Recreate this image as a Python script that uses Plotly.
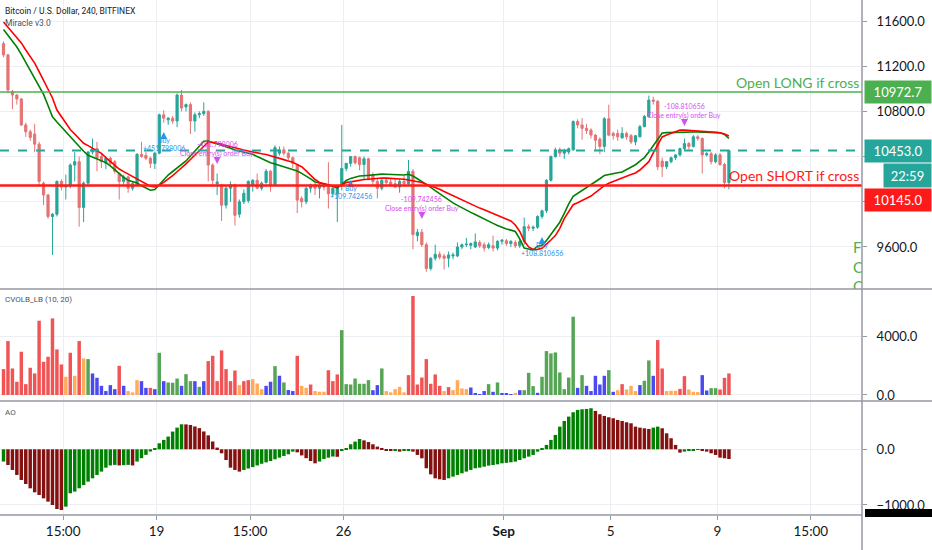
import plotly.graph_objects as go
from plotly.subplots import make_subplots

# ---- BTCUSD 4h candles (index 0 = oldest bar on screen) ----
bar_open = [11400, 11300, 10975, 10945, 10910, 10680, 10620, 10600, 10510, 10165, 10060, 9870,
            9890, 10180, 10130, 10140, 10325, 10355, 9950, 10165, 10440, 10470, 10400, 10340,
            10385, 10355, 10250, 10180, 10220, 10120, 10150, 10420, 10410, 10385, 10340, 10430,
            10770, 10725, 10740, 10715, 10945, 10840, 10860, 10715, 10770, 10780, 10800, 10325,
            10160, 10150, 9970, 10120, 10150, 9890, 10000, 10010, 10150, 10190, 10120, 10170,
            10270, 10150, 10430, 10460, 10430, 10390, 10330, 10030, 10000, 10120, 10150, 10120,
            10140, 10140, 10070, 10070, 10160, 10295, 10340, 10400, 10390, 10330, 10380, 10240,
            10180, 10120, 10190, 10175, 10160, 10130, 10180, 10160, 10270, 9700, 9730, 9620,
            9410, 9500, 9535, 9520, 9500, 9520, 9520, 9600, 9620, 9615, 9600, 9640,
            9620, 9595, 9610, 9590, 9650, 9655, 9630, 9640, 9610, 9650, 9780, 9765,
            9775, 9870, 9920, 10190, 10400, 10460, 10430, 10440, 10460, 10710, 10680, 10650,
            10635, 10590, 10555, 10490, 10735, 10605, 10605, 10565, 10605, 10585, 10530, 10575,
            10665, 10755, 10900, 10890, 10360, 10310, 10355, 10390, 10415, 10470, 10515, 10490,
            10575, 10560, 10415, 10425, 10355, 10415, 10330, 10170]
bar_high = [11420, 11310, 10990, 10955, 10920, 10700, 10640, 10690, 10530, 10180, 10070, 9900,
            10190, 10200, 10240, 10340, 10440, 10400, 10180, 10450, 10560, 10530, 10430, 10400,
            10400, 10370, 10260, 10240, 10230, 10180, 10430, 10530, 10440, 10400, 10445, 10780,
            10810, 10750, 10760, 10960, 10990, 10870, 10880, 10790, 10800, 10880, 10810, 10340,
            10250, 10160, 10145, 10180, 10160, 10020, 10110, 10190, 10200, 10250, 10180, 10290,
            10280, 10500, 10490, 10490, 10440, 10400, 10340, 10050, 10130, 10160, 10170, 10160,
            10160, 10350, 10130, 10140, 10680, 10340, 10400, 10410, 10400, 10400, 10390, 10260,
            10200, 10200, 10210, 10200, 10200, 10200, 10230, 10370, 10290, 9760, 9760, 9640,
            9510, 9620, 9560, 9540, 9560, 9550, 9640, 9630, 9680, 9640, 9720, 9660,
            9640, 9640, 9700, 9660, 9670, 9670, 9660, 9660, 9670, 9860, 9800, 9790,
            9880, 9930, 10200, 10410, 10480, 10480, 10470, 10480, 10720, 10730, 10740, 10690,
            10650, 10600, 10570, 10750, 10860, 10620, 10640, 10660, 10620, 10600, 10590, 10680,
            10770, 10940, 10930, 10900, 10390, 10360, 10400, 10420, 10480, 10560, 10530, 10590,
            10590, 10570, 10440, 10440, 10430, 10430, 10345, 10460]
bar_low = [11280, 10960, 10820, 10860, 10670, 10575, 10540, 10440, 10150, 9970, 9850, 9530,
           9870, 10100, 10020, 10120, 10180, 9780, 9820, 10150, 10420, 10270, 10300, 10290,
           10320, 10250, 10020, 10150, 10080, 10100, 10140, 10390, 10370, 10300, 10290, 10420,
           10700, 10680, 10690, 10660, 10800, 10800, 10600, 10620, 10740, 10760, 10180, 10150,
           10060, 9830, 9940, 10000, 9790, 9860, 9980, 9990, 10090, 10110, 10100, 10160,
           10090, 10140, 10410, 10410, 10370, 10300, 9900, 9950, 9980, 10080, 10060, 10030,
           10100, 9940, 10050, 9820, 10100, 10270, 10310, 10330, 10280, 10190, 10190, 10150,
           10030, 10100, 10150, 10140, 10120, 10080, 10140, 10140, 9580, 9650, 9600, 9380,
           9390, 9480, 9490, 9400, 9420, 9490, 9510, 9580, 9600, 9580, 9590, 9590,
           9560, 9580, 9560, 9570, 9620, 9610, 9600, 9590, 9590, 9620, 9740, 9740,
           9760, 9850, 9900, 10180, 10390, 10400, 10380, 10420, 10450, 10650, 10550, 10600,
           10560, 10450, 10420, 10440, 10580, 10550, 10540, 10560, 10550, 10510, 10500, 10570,
           10660, 10750, 10860, 10280, 10220, 10290, 10340, 10370, 10400, 10450, 10460, 10480,
           10540, 10250, 10400, 10330, 10340, 10320, 10120, 10110]
bar_close = [11300, 10990, 10945, 10910, 10680, 10620, 10570, 10510, 10180, 10060, 9870, 9890,
             10180, 10130, 10140, 10325, 10355, 9950, 10165, 10440, 10470, 10385, 10355, 10385,
             10340, 10270, 10180, 10220, 10120, 10160, 10420, 10400, 10385, 10340, 10430, 10770,
             10740, 10740, 10715, 10945, 10830, 10860, 10715, 10770, 10780, 10800, 10325, 10190,
             10175, 9970, 10120, 10150, 9880, 10000, 10075, 10180, 10190, 10120, 10165, 10270,
             10150, 10480, 10460, 10430, 10390, 10340, 10015, 10000, 10120, 10150, 10120, 10140,
             10130, 10070, 10120, 10130, 10295, 10340, 10400, 10345, 10330, 10380, 10200, 10180,
             10120, 10190, 10170, 10150, 10130, 10180, 10160, 10270, 9710, 9730, 9620, 9410,
             9500, 9535, 9510, 9500, 9530, 9530, 9600, 9620, 9625, 9630, 9645, 9610,
             9590, 9620, 9590, 9650, 9660, 9630, 9650, 9610, 9650, 9780, 9765, 9775,
             9870, 9920, 10190, 10400, 10460, 10430, 10450, 10470, 10710, 10680, 10650, 10630,
             10590, 10545, 10490, 10735, 10590, 10585, 10575, 10605, 10575, 10530, 10585, 10665,
             10755, 10900, 10890, 10310, 10310, 10355, 10390, 10415, 10470, 10515, 10490, 10575,
             10560, 10415, 10425, 10355, 10415, 10330, 10170, 10453]

# Miracle v3.0 moving averages
ma_fast = [11525, 11473, 11423, 11370, 11304, 11234, 11166, 11096, 11025, 10950, 10852, 10752,
           10706, 10662, 10620, 10577, 10534, 10490, 10447, 10411, 10395, 10379, 10363, 10347,
           10317, 10282, 10248, 10216, 10190, 10178, 10166, 10142, 10119, 10102, 10109, 10152,
           10193, 10237, 10268, 10301, 10329, 10361, 10405, 10449, 10491, 10536, 10538, 10526,
           10514, 10500, 10487, 10473, 10459, 10450, 10441, 10431, 10420, 10400, 10381, 10361,
           10346, 10335, 10323, 10311, 10299, 10288, 10273, 10251, 10230, 10203, 10175, 10167,
           10158, 10148, 10136, 10124, 10155, 10188, 10207, 10218, 10228, 10231, 10235, 10238,
           10242, 10245, 10244, 10243, 10241, 10239, 10237, 10244, 10228, 10204, 10181, 10154,
           10128, 10099, 10071, 10043, 10016, 9990, 9968, 9945, 9924, 9906, 9887, 9866,
           9847, 9827, 9809, 9790, 9773, 9759, 9749, 9737, 9671, 9590, 9582, 9574,
           9607, 9616, 9657, 9709, 9760, 9819, 9898, 9981, 10048, 10073, 10097, 10122,
           10149, 10177, 10204, 10233, 10243, 10250, 10257, 10264, 10285, 10306, 10328, 10359,
           10391, 10441, 10498, 10554, 10609, 10612, 10614, 10616, 10618, 10618, 10618, 10618,
           10618, 10618, 10617, 10614, 10612, 10610, 10596, 10560]
ma_slow = [11591, 11547, 11503, 11459, 11406, 11344, 11290, 11228, 11153, 11078, 11007, 10919,
           10812, 10751, 10689, 10640, 10600, 10556, 10518, 10497, 10476, 10455, 10429, 10391,
           10355, 10317, 10290, 10267, 10246, 10220, 10202, 10184, 10162, 10137, 10131, 10146,
           10172, 10199, 10231, 10266, 10299, 10335, 10374, 10414, 10452, 10492, 10529, 10525,
           10520, 10512, 10499, 10488, 10476, 10467, 10458, 10450, 10440, 10432, 10425, 10418,
           10408, 10397, 10384, 10373, 10361, 10349, 10329, 10310, 10273, 10232, 10197, 10171,
           10160, 10149, 10140, 10131, 10149, 10170, 10176, 10184, 10193, 10197, 10200, 10204,
           10207, 10210, 10209, 10207, 10205, 10204, 10200, 10193, 10186, 10179, 10170, 10156,
           10143, 10128, 10111, 10091, 10072, 10051, 10032, 10014, 9996, 9979, 9961, 9944,
           9929, 9913, 9897, 9881, 9865, 9847, 9830, 9795, 9737, 9653, 9600, 9578,
           9579, 9589, 9622, 9662, 9701, 9765, 9851, 9914, 9974, 9991, 10011, 10028,
           10051, 10082, 10112, 10143, 10164, 10181, 10197, 10211, 10226, 10241, 10255, 10281,
           10320, 10355, 10432, 10503, 10574, 10591, 10607, 10624, 10635, 10634, 10632, 10630,
           10628, 10627, 10625, 10620, 10616, 10611, 10600, 10582]

# CVOLB_LB (10, 20) colored volume
cvol = [1775, 3700, 1820, 905, 2966, 745, 1867, 1478, 5096, 2279, 2623, 5256,
        3126, 2096, 1249, 2897, 1317, 3700, 2508, 2462, 1478, 1180, 630, 270,
        676, 401, 2004, 630, 270, 180, 1020, 950, 490, 490, 400, 2897,
        950, 860, 840, 1130, 630, 1430, 950, 950, 560, 950, 2325, 2690,
        950, 3060, 1775, 950, 1680, 676, 950, 1020, 1090, 790, 400, 630,
        910, 1980, 1320, 860, 340, 270, 2690, 630, 490, 720, 270, 225,
        225, 1700, 950, 1410, 4450, 745, 720, 1130, 770, 770, 1020, 330,
        676, 1821, 270, 180, 400, 560, 180, 1363, 6790, 720, 1200, 2462,
        770, 1410, 630, 270, 540, 330, 1020, 450, 400, 515, 100, 60,
        270, 745, 220, 860, 100, 80, 50, 150, 330, 330, 1520, 607,
        150, 1250, 3012, 2850, 2920, 1546, 400, 1200, 5370, 490, 1363, 630,
        270, 1317, 720, 1317, 1706, 220, 330, 745, 380, 630, 270, 676,
        974, 2370, 1317, 3768, 1821, 270, 290, 290, 420, 1294, 380, 220,
        200, 1363, 310, 470, 470, 380, 1180, 1478]
# r = down/high, o = down/low, g = up/high, b = up/low
cvol_kind = list("rrrrrrrrrrrrrr" + "ororo" + "g" + "bbbbbb" + "r" + "b" + "ooo" + "bb" + "r" + "b"
                 + "g" + "b" + "ggg" + "b" + "gg" + "b" + "g" + "b" + "rrrrrrr" + "o" + "rr" + "ooo"
                 + "bb" + "gbg" + "bb" + "r" + "oo" + "r" + "ooo" + "rrr" + "ggggggg"
                 + "bbg" + "ooooo" + "rrrrrrrr" + "o" + "r" + "oooo" + "bbbb" + "g" + "b" + "g"
                 + "bbb" + "o" + "b" + "ggg" + "b" + "gggggggg" + "b" + "g" + "bbbbb" + "g" + "b"
                 + "o" + "r" + "ooo" + "b" + "gg" + "b" + "rr" + "ooo" + "rr" + "ooo" + "bb" + "gg" + "rrr")

# Awesome Oscillator
ao = [-220, -282, -371, -461, -551, -623, -701, -773, -821, -881, -940, -1000,
      -1072, -1090, -1030, -790, -760, -700, -641, -581, -521, -461, -401, -330,
      -290, -280, -290, -285, -280, -290, -220, -160, -100, -40, 20, 108,
      168, 228, 318, 389, 449, 447, 437, 410, 380, 320, 250, 140,
      30, -72, -192, -330, -371, -401, -371, -345, -320, -290, -260, -235,
      -210, -180, -150, -120, -90, -42, -55, -110, -160, -210, -252, -220,
      -175, -150, -130, -135, -20, 18, 90, 138, 185, 160, 130, 90,
      48, 18, -18, -30, -24, -42, -30, -28, -42, -102, -162, -341,
      -450, -521, -539, -551, -521, -491, -461, -431, -401, -371, -341, -330,
      -312, -293, -282, -270, -252, -243, -234, -222, -192, -162, -132, -102,
      -42, 6, 78, 168, 258, 407, 509, 587, 665, 707, 719, 725,
      737, 689, 629, 599, 575, 557, 527, 509, 485, 467, 407, 389,
      377, 365, 389, 407, 377, 287, 198, 78, -60, -42, -24, -18,
      -10, -24, -42, -72, -102, -150, -162, -175]

tick_pos = [13.4, 34.4, 55.4, 76.4, 112.4, 136.4, 160.4, 181.4]
tick_text = ["15:00", "19", "15:00", "26", "<b>Sep</b>", "5", "9", "15:00"]

long_level = 10972.7
short_level = 10145.0
last_price = 10453.0
countdown = "22:59"

buy_bar = [36, 78, 121]
buy_at = [10618, 10193, 9689]
buy_pl = ["+451.798006", "+109.742456", "+108.810656"]
exit_bar = [48, 94, 153]
exit_at = [10335, 9848, 10671]
exit_pl = ["-451.798006", "-109.742456", "-108.810656"]

# ---- figure ----
W, H = 932, 550
ML, MR, MT, MB = 0, 70, 0, 35
PW, PH = W - ML - MR, H - MT - MB
FONT = "Lato, Roboto, sans-serif"
GRID = "#eceef3"
SEP = "#9598a1"
TXT = "#131722"

x = list(range(len(bar_close)))

fig = make_subplots(rows=3, cols=1, shared_xaxes=True, vertical_spacing=0,
                    row_heights=[289, 112, 114])

fig.add_trace(go.Candlestick(
    x=x, open=bar_open, high=bar_high, low=bar_low, close=bar_close,
    increasing=dict(line=dict(color="#26a69a", width=1), fillcolor="#26a69a"),
    decreasing=dict(line=dict(color="#e57373", width=1), fillcolor="#e57373"),
    hoverinfo="skip", showlegend=False), row=1, col=1)

fig.add_trace(go.Scatter(x=x, y=ma_fast, mode="lines", line=dict(color="#008000", width=1.6),
                         hoverinfo="skip", showlegend=False), row=1, col=1)
fig.add_trace(go.Scatter(x=x, y=ma_slow, mode="lines", line=dict(color="#ff0000", width=1.6),
                         hoverinfo="skip", showlegend=False), row=1, col=1)

# trade markers
fig.add_trace(go.Scatter(x=buy_bar, y=buy_at, mode="markers",
                         marker=dict(symbol="arrow-up", size=7, color="#2196f3"),
                         hoverinfo="skip", showlegend=False), row=1, col=1)
fig.add_trace(go.Scatter(x=exit_bar, y=exit_at, mode="markers",
                         marker=dict(symbol="arrow-down", size=7, color="#d54ff0"),
                         hoverinfo="skip", showlegend=False), row=1, col=1)

kind_color = {"r": "#f05454", "o": "#ffab5a", "g": "#55a555", "b": "#4a4af0"}
fig.add_trace(go.Bar(x=x, y=cvol, marker=dict(color=[kind_color[k] for k in cvol_kind], line_width=0),
                     hoverinfo="skip", showlegend=False), row=2, col=1)

ao_col = ["#008000" if i == 0 or ao[i] >= ao[i - 1] else "#841010" for i in range(len(ao))]
fig.add_trace(go.Bar(x=x, y=ao, marker=dict(color=ao_col, line_width=0),
                     hoverinfo="skip", showlegend=False), row=3, col=1)

# clipped green legend text at the right edge of the price pane
y_main = [9228, 11786]
def px2price(ypx):
    return y_main[1] - (y_main[1] - y_main[0]) * ypx / 289.0
x_rng = [-0.79, 192.9]
def px2idx(xpx):
    return x_rng[0] + (x_rng[1] - x_rng[0]) * xpx / PW
fig.add_trace(go.Scatter(x=[px2idx(853)], y=[px2price(269)],
                         mode="text", text=["F<br>C<br>C"], textposition="middle right",
                         textfont=dict(color="#4caf50", size=15, family=FONT),
                         cliponaxis=True, hoverinfo="skip", showlegend=False), row=1, col=1)

axis_common = dict(showgrid=True, gridcolor=GRID, gridwidth=1, zeroline=False,
                   tickvals=tick_pos, range=x_rng, showline=False, automargin=False)
fig.update_layout(
    xaxis=dict(**axis_common, showticklabels=False, rangeslider=dict(visible=False)),
    xaxis2=dict(**axis_common, showticklabels=False),
    xaxis3=dict(**axis_common, ticktext=tick_text, showticklabels=True, ticks="outside",
                ticklen=4, tickcolor=SEP, tickfont=dict(size=13.5, color=TXT, family=FONT)),
)
yax = dict(side="right", showgrid=True, gridcolor=GRID, zeroline=False, ticks="outside",
           ticklen=4, tickcolor=SEP, tickfont=dict(size=13, color=TXT, family=FONT),
           showline=False, automargin=False, ticklabelstandoff=7, fixedrange=True)
fig.update_layout(
    yaxis=dict(**yax, range=y_main, tickvals=[9600, 10000, 10400, 10800, 11200, 11600],
               ticktext=["9600.0", "", "", "10800.0", "11200.0", "11600.0"]),
    yaxis2=dict(**yax, range=[-412, 7272], tickvals=[0, 4000], ticktext=["0.0", "4000.0"]),
    yaxis3=dict(**yax, range=[-1180, 867], tickvals=[-1000, 0], ticktext=["\u22121000.0", "0.0"]),
)

def py(ypx):
    return 1 - ypx / PH

shapes = [
    dict(type="line", xref="paper", yref="y", x0=0, x1=1, y0=long_level, y1=long_level,
         line=dict(color="#4caf50", width=1.5)),
    dict(type="line", xref="paper", yref="y", x0=0, x1=1, y0=last_price, y1=last_price,
         line=dict(color="#26a69a", width=2, dash="dash")),
    dict(type="line", xref="paper", yref="y", x0=0, x1=1, y0=short_level, y1=short_level,
         line=dict(color="#ff1a1a", width=2.5)),
    dict(type="line", xref="paper", yref="paper", x0=0, x1=W / PW, y0=py(289), y1=py(289),
         line=dict(color=SEP, width=1.5)),
    dict(type="line", xref="paper", yref="paper", x0=0, x1=W / PW, y0=py(401), y1=py(401),
         line=dict(color=SEP, width=1.5)),
    dict(type="line", xref="paper", yref="paper", x0=0, x1=1, y0=0, y1=0,
         line=dict(color=SEP, width=1.5)),
    dict(type="line", xref="paper", yref="paper", x0=1, x1=1, y0=-MB / PH, y1=1,
         line=dict(color=SEP, width=1.5)),
    dict(type="rect", xref="paper", yref="paper", x0=865 / PW, x1=W / PW, y0=py(517), y1=py(509),
         line_width=0, fillcolor="#000000"),
]

ann = []
def note(text, x, y, size, color, xref="paper", yref="paper", **kw):
    d = dict(text=text, x=x, y=y, xref=xref, yref=yref, showarrow=False,
             font=dict(size=size, color=color, family=FONT))
    d.update(kw)
    ann.append(d)

note("Bitcoin / U.S. Dollar, 240, BITFINEX", 0.004, py(11), 8.5, TXT,
     xanchor="left", yanchor="middle", font=dict(size=8.5, color=TXT, family="Roboto"))
note("Miracle v3.0", 0.004, py(23), 8.5, "#50535e", xanchor="left", yanchor="middle",
     font=dict(size=8.5, color="#50535e", family="Roboto"))
note("CVOLB_LB (10, 20)", 0.004, py(299), 8, "#50535e", xanchor="left", yanchor="middle",
     font=dict(size=8, color="#50535e", family="Roboto"))
note("AO", 0.004, py(412), 8, "#50535e", xanchor="left", yanchor="middle",
     font=dict(size=8, color="#50535e", family="Roboto"))

note("Open LONG if cross", 1, long_level, 14, "#4caf50", yref="y",
     xanchor="right", yanchor="bottom", xshift=-1, yshift=-1)
note("Open SHORT if cross", 1, short_level, 14, "#ff1a1a", yref="y",
     xanchor="right", yanchor="bottom", xshift=-1, yshift=-1)

# right-axis price tags (TradingView pushes the lower tag down to make room for the countdown)
for val, col, shift in [(long_level, "#4caf50", 0), (last_price, "#26a69a", 0),
                        (short_level, "#ff1a1a", -15)]:
    note("%.1f" % val, 1, val, 13, "#ffffff", yref="y", xanchor="left", yanchor="middle",
         xshift=2, yshift=shift, bgcolor=col, width=66, height=22, borderpad=0, align="center")
note(countdown, 1, last_price, 13, "#ffffff", yref="y", xanchor="left", yanchor="middle",
     xshift=21, yshift=-25, bgcolor="#26a69a", width=47, height=23, borderpad=0, align="center")

for b, p, t in zip(buy_bar, buy_at, buy_pl):
    note("Buy", b, p, 7, "#2196f3", xref="x", yref="y", yshift=-8)
    note(t, b, p, 7, "#2196f3", xref="x", yref="y", yshift=-16)
for b, p, t in zip(exit_bar, exit_at, exit_pl):
    note("Close entry(s) order Buy", b, p, 7, "#d54ff0", xref="x", yref="y", yshift=10)
    note(t, b, p, 7, "#d54ff0", xref="x", yref="y", yshift=20)

fig.update_layout(
    width=W, height=H, margin=dict(l=ML, r=MR, t=MT, b=MB),
    plot_bgcolor="#ffffff", paper_bgcolor="#ffffff",
    bargap=0.22, showlegend=False, shapes=shapes, annotations=ann,
    font=dict(family=FONT, color=TXT),
)

# the page's default 8px body margin would shift the chart inside the window
fig.write_html("out.html", config={"displayModeBar": False},
               post_script="document.body.style.margin='0';")
